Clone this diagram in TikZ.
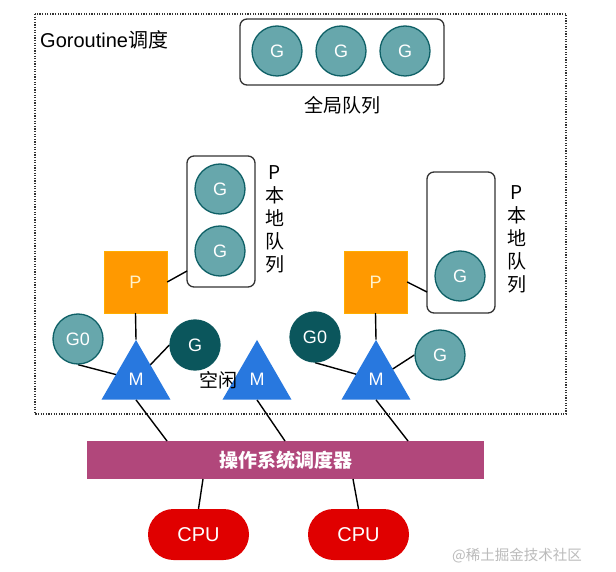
\documentclass[tikz,border=0pt]{standalone}
\usepackage{fontspec}
\setmainfont{Liberation Sans}
\newfontfamily\cjk{Noto Sans CJK SC}
\usetikzlibrary{shapes.geometric,shapes.misc,backgrounds}
\definecolor{gfill}{HTML}{67A7AC}
\definecolor{gline}{HTML}{0E6066}
\definecolor{gdark}{HTML}{0B565C}
\definecolor{porange}{HTML}{FF9900}
\definecolor{ptext}{HTML}{FFF2CC}
\definecolor{mblue}{HTML}{2878DF}
\definecolor{osbar}{HTML}{B1477B}
\definecolor{cpured}{HTML}{E00000}
\definecolor{wmgray}{HTML}{BBBBBB}
\tikzset{
  gnode/.style={circle, minimum size=50pt, inner sep=0pt, fill=gfill, draw=gline, line width=1.3pt, text=white, font=\fontsize{18}{20}\selectfont},
  gdarknode/.style={gnode, fill=gdark, draw=gdark},
  queuebox/.style={draw=black!80, line width=1.3pt, rounded corners=7pt, inner sep=0pt},
  pnode/.style={rectangle, minimum width=63pt, minimum height=62pt, inner sep=0pt, fill=porange, draw=porange!80!yellow, text=ptext, font=\fontsize{18}{20}\selectfont},
  mnode/.style={regular polygon, regular polygon sides=3, minimum size=79.7pt, inner sep=0pt, fill=mblue, text=white, font=\fontsize{18}{20}\selectfont},
  cpunode/.style={rounded rectangle, minimum width=101pt, minimum height=51pt, inner sep=0pt, fill=cpured, text=white, font=\fontsize{20}{22}\selectfont},
  conn/.style={line width=1.4pt, black},
  label20/.style={font=\fontsize{19}{23}\selectfont\cjk, inner sep=0pt},
}
\begin{document}
\begin{tikzpicture}[x=1pt,y=-1pt]
\useasboundingbox (0,0) rectangle (616,572);
% outer dotted frame
\draw[line width=1.4pt, dash pattern=on 1.3pt off 1.3pt, black!80] (35,14) rectangle (566,414);
\node[anchor=west, inner sep=0pt, font=\fontsize{20}{24}\selectfont] (title) at (40,40) {Goroutine{\cjk 调度}};
% global queue
\node[queuebox, minimum width=204pt, minimum height=66pt] (gq) at (342,52) {};
\node[gnode] (gg1) at (277,51) {G};
\node[gnode] (gg2) at (341,51) {G};
\node[gnode] (gg3) at (405,51) {G};
\node[label20] (gqlabel) at (342,105) {全局队列};
% left local queue
\node[queuebox, minimum width=68pt, minimum height=131pt] (lq1) at (221,221.5) {};
\node[gnode] (lg1) at (220,189) {G};
\node[gnode] (lg2) at (220,251) {G};
\node[label20, align=center] (lq1label) at (275,219) {P\\本\\地\\队\\列};
% right local queue
\node[queuebox, minimum width=68pt, minimum height=141pt] (lq2) at (461,242.5) {};
\node[gnode] (rg1) at (460,276) {G};
\node[label20, align=center] (lq2label) at (517,239) {P\\本\\地\\队\\列};
% P nodes
\node[pnode] (p1) at (135.5,282) {P};
\node[pnode] (p2) at (375.5,282) {P};
% M nodes
\node[mnode] (m1) at (136,379.8) {M};
\node[mnode] (m2) at (257,379.8) {M};
\node[mnode] (m3) at (376,379.8) {M};
% G0 / G around M
\node[gnode] (g01) at (78,339) {G0};
\node[gdarknode] (gd1) at (195,345) {G};
\node[gdarknode] (g02) at (315,337) {G0};
\node[gnode] (gr2) at (440,355) {G};
\node[label20, anchor=east] (idle) at (238,380) {空闲};
% OS bar
\node[rectangle, minimum width=397pt, minimum height=38pt, inner sep=0pt, fill=osbar, text=white, font=\fontsize{19}{22}\selectfont\cjk\bfseries] (os) at (285.5,460) {操作系统调度器};
% CPUs
\node[cpunode] (cpu1) at (198.5,534.5) {CPU};
\node[cpunode] (cpu2) at (358.5,534.5) {CPU};
% watermark
\node[anchor=west, inner sep=0pt, text=wmgray, font=\fontsize{14.5}{16}\selectfont\cjk] (wm) at (452,556) {@稀土掘金技术社区};
% coordinates on bar
\coordinate (os1) at (167,441);
\coordinate (os2) at (285,441);
\coordinate (os3) at (408,441);
\coordinate (osb1) at (203,479);
\coordinate (osb2) at (353,479);
\coordinate (q1in) at (187,271);
\coordinate (q2in) at (427,292);
\begin{scope}[on background layer]
\fill[white] (0,0) rectangle (616,572);
\draw[conn] (g01.south) -- (m1.center);
\draw[conn] (gd1.west) -- (m1.center);
\draw[conn] (g02.south) -- (m3.center);
\draw[conn] (gr2.west) -- (m3.center);
\end{scope}
\draw[conn] (p1.east) -- (q1in);
\draw[conn] (p2.east) -- (q2in);
\draw[conn] (p1.south) -- (m1.corner 1);
\draw[conn] (p2.south) -- (m3.corner 1);
\draw[conn] (m1.side 2) -- (os1);
\draw[conn] (m2.side 2) -- (os2);
\draw[conn] (m3.side 2) -- (os3);
\draw[conn] (osb1) -- (cpu1.north);
\draw[conn] (osb2) -- (cpu2.north);
\end{tikzpicture}
\end{document}
